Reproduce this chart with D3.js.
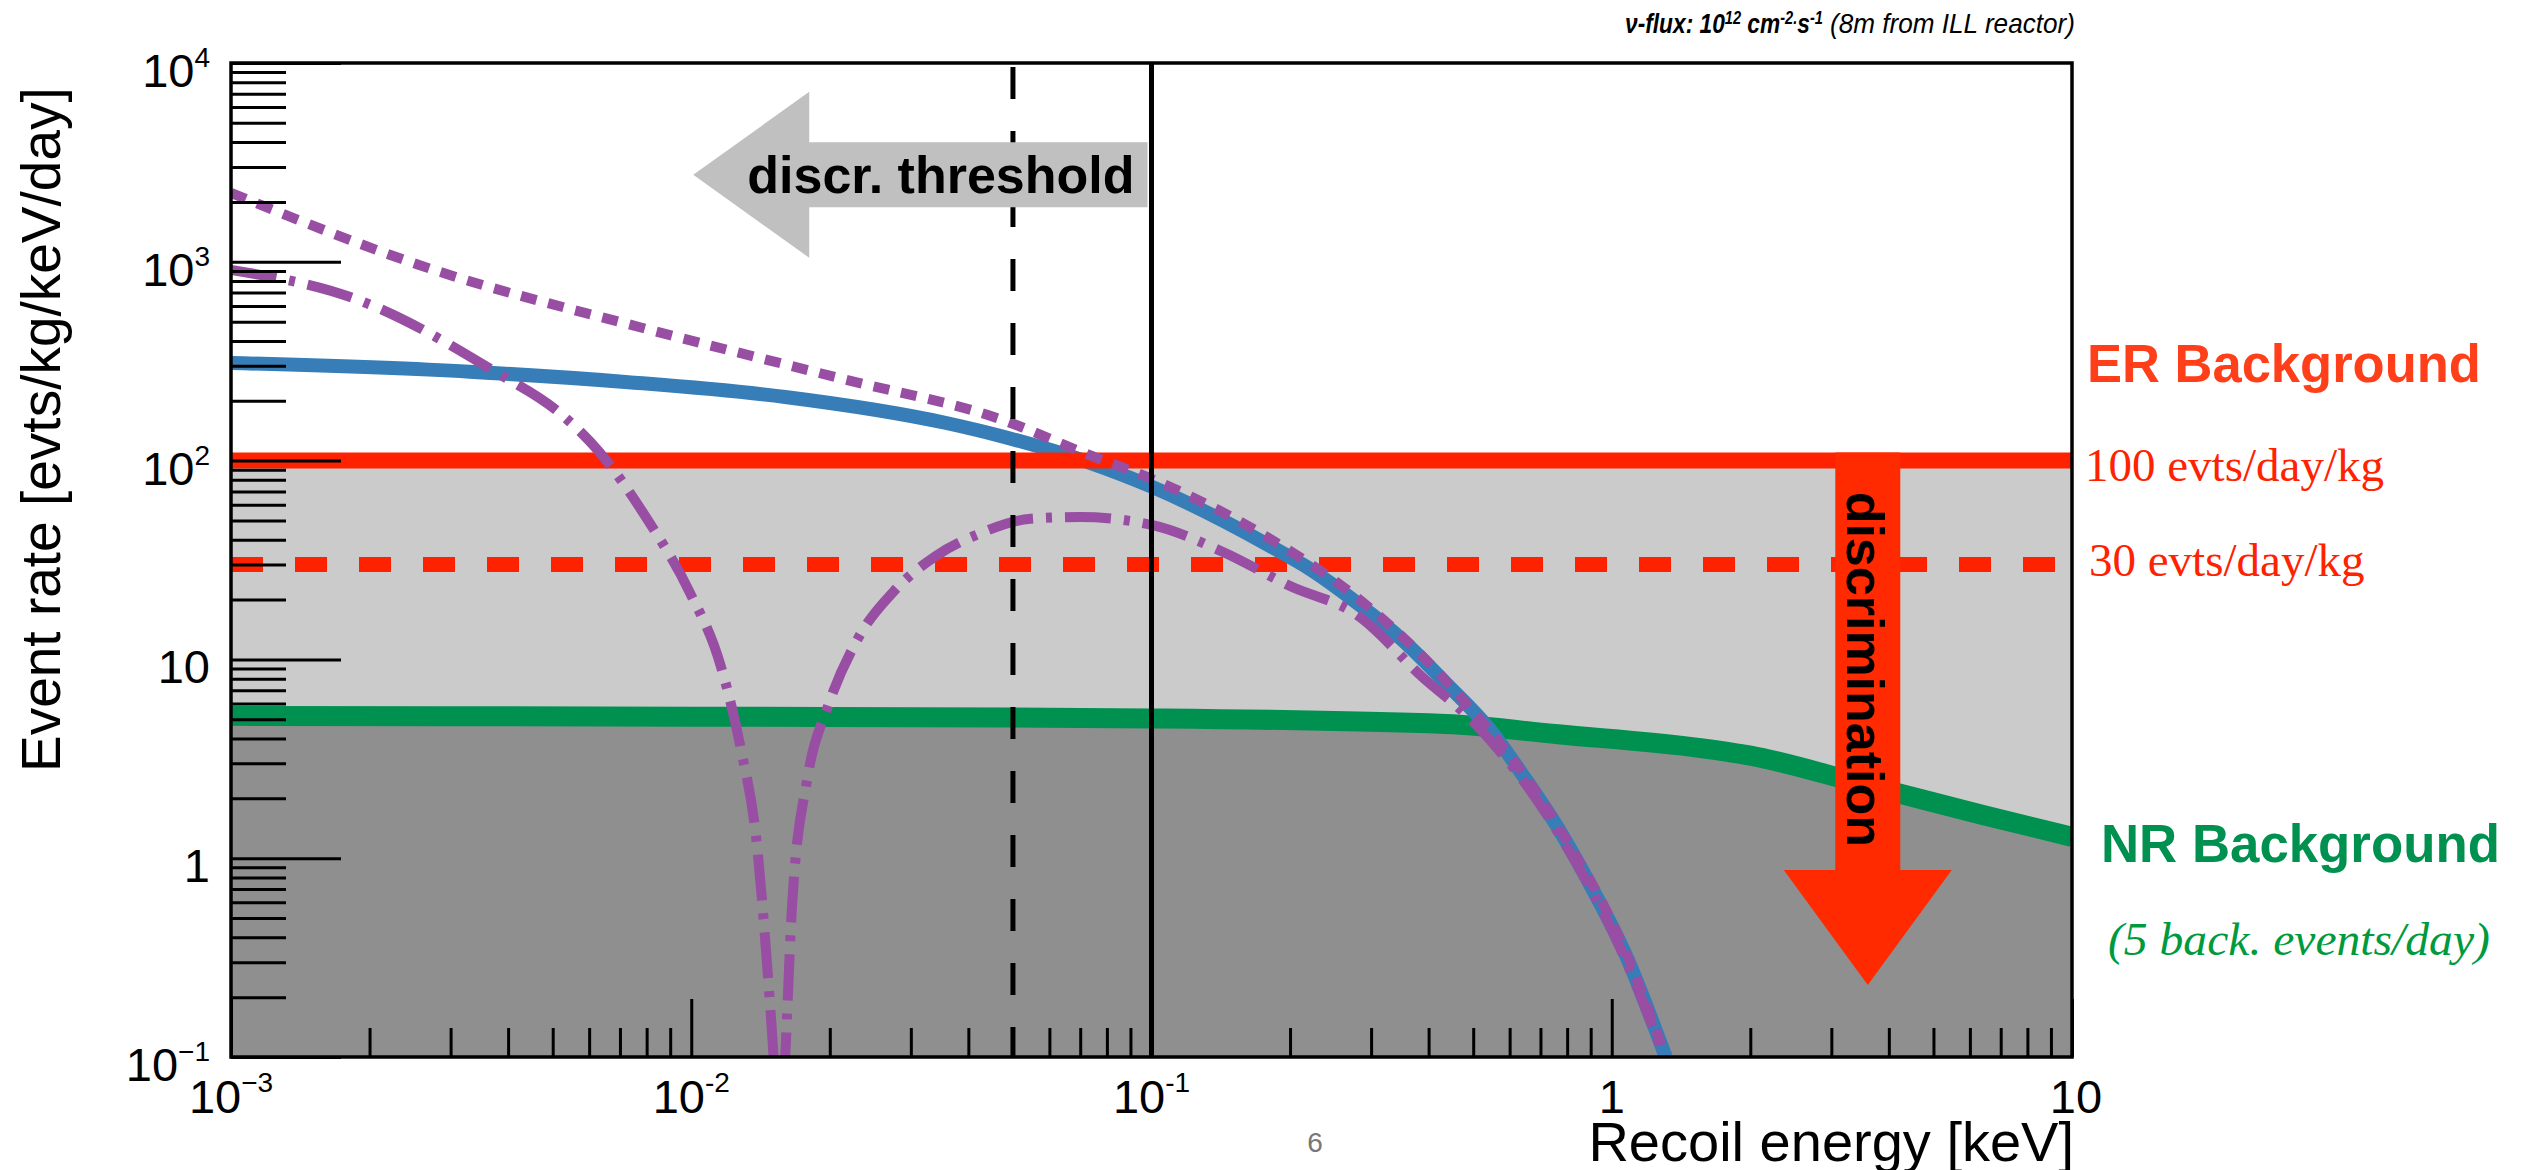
<!DOCTYPE html>
<html>
<head>
<meta charset="utf-8">
<script src="https://cdn.jsdelivr.net/npm/d3@7/dist/d3.min.js"></script>
<style>
  body { margin: 0; background: #fff; }
  svg text { font-family: "Liberation Sans", Arial, Helvetica, sans-serif; }
</style>
</head>
<body>
<svg id="chart" width="2531" height="1170"></svg>
<script>
// 読み取った値 (keV, evts/kg/keV/day)
var blueE    = [0.001, 0.0033, 0.0073, 0.016, 0.0356, 0.047, 0.073, 0.1, 0.179, 0.224, 0.28, 0.35, 0.436, 0.547, 0.646, 0.764, 0.914, 1.07, 1.31];
var blueRate = [310,   280,    248,    209,   155,    133,   98,    74,  37.7,  27.9,  19.2, 12.6, 7.6,   4.36,  2.55,  1.42,  0.68,  0.33, 0.1];

var dotE    = [0.001, 0.0028, 0.0077, 0.0214, 0.0475, 0.073, 0.1, 0.179, 0.28, 0.436, 0.764, 1.07, 1.31];
var dotRate = [2220,  900,    470,    257,    160,    107,   81,  41,    20.4, 7.8,   1.45,  0.34, 0.1];

var dashDotE    = [0.001, 0.0019, 0.0037, 0.0053, 0.0063, 0.0081, 0.0099, 0.0116, 0.0128, 0.0139, 0.0146, 0.0151, 0.01555, 0.016, 0.01656, 0.0179, 0.0198, 0.0231, 0.0276, 0.0339, 0.0427, 0.0547, 0.07, 0.1, 0.143, 0.2, 0.28, 0.39, 0.49, 0.764, 1.07, 1.31];
var dashDotRate = [910,   640,    285,    166,    111,    49,     22,     9.2,    3.6,    1.15,   0.30,   0.1,    0.03,    0.1,   0.58,    2.56,   5.77,   12.9,   22.1,   33,     43.3,   51,     52,   47.5, 34.7, 23.4, 16.7, 8.05, 5.1, 1.35, 0.31, 0.095];

var nrE    = [0.001, 0.01, 0.05, 0.1,  0.436, 0.764, 1.56, 2.0,  3.58, 6.4,  10];
var nrRate = [5.2,   5.15, 5.1,  5.05, 4.73,  4.2,   3.58, 3.28, 2.33, 1.65, 1.28];

var erLevels = [100, 30];
var thresholds = [0.05, 0.1];

var xTickVals = [1e-3, 1e-2, 1e-1, 1, 10];
var xTickBase = ["10", "10", "10", "1", "10"];
var xTickExp  = ["\u22123", "-2", "-1", "", ""];
var yTickVals = [0.1, 1, 10, 100, 1000, 10000];
var yTickBase = ["10", "1", "10", "10", "10", "10"];
var yTickExp  = ["\u22121", "", "", "2", "3", "4"];

var svg = d3.select("#chart");
var pLeft = 231, pRight = 2072, pTop = 63, pBottom = 1057;

var x = d3.scaleLog().domain([1e-3, 10]).range([pLeft, pRight]);
var y = d3.scaleLog().domain([0.1, 1e4]).range([pBottom, pTop]);

function minorOf(majors) {
  var out = [];
  majors.slice(0, -1).forEach(function(m) {
    for (var k = 2; k <= 9; k++) out.push(m * k);
  });
  return out;
}

// テキストを指定幅に横方向で合わせる
function fitText(g, x0, width) {
  var w = g.node().getBBox().width;
  g.attr("transform", "translate(" + x0 + ",0) scale(" + (width / w) + ",1)");
}

svg.append("clipPath").attr("id", "plotclip")
  .append("rect").attr("x", pLeft).attr("y", pTop)
  .attr("width", pRight - pLeft).attr("height", pBottom - pTop);

var plot = svg.append("g").attr("clip-path", "url(#plotclip)");

// 背景の灰色
plot.append("rect")
  .attr("x", pLeft).attr("y", y(100))
  .attr("width", pRight - pLeft).attr("height", pBottom - y(100))
  .attr("fill", "#cbcbcb");

var nrData = d3.zip(nrE, nrRate);
plot.append("path")
  .datum(nrData)
  .attr("fill", "#8f8f8f")
  .attr("d", d3.area()
    .x(function(d) { return x(d[0]); })
    .y0(pBottom)
    .y1(function(d) { return y(d[1]); })
    .curve(d3.curveMonotoneX));

var line = d3.line()
  .x(function(d) { return x(d[0]); })
  .y(function(d) { return y(d[1]); })
  .curve(d3.curveMonotoneX);

// ER 30 evts (dashed)
plot.append("path")
  .datum([[1e-3, erLevels[1]], [10, erLevels[1]]])
  .attr("d", line)
  .attr("stroke", "#ff2200").attr("stroke-width", 15)
  .attr("stroke-dasharray", "32,32").attr("fill", "none");

plot.append("path")
  .datum(nrData)
  .attr("d", line)
  .attr("stroke", "#009150").attr("stroke-width", 20).attr("fill", "none");

plot.append("path")
  .datum(d3.zip(blueE, blueRate))
  .attr("d", line)
  .attr("stroke", "#377eb8").attr("stroke-width", 14).attr("fill", "none");

// ER 100 evts
plot.append("path")
  .datum([[1e-3, erLevels[0]], [10, erLevels[0]]])
  .attr("d", line)
  .attr("stroke", "#ff2200").attr("stroke-width", 16).attr("fill", "none");

plot.append("path")
  .datum(d3.zip(dotE, dotRate))
  .attr("d", line)
  .attr("stroke", "#984ea3").attr("stroke-width", 10)
  .attr("stroke-dasharray", "16,12").attr("fill", "none");

plot.append("path")
  .datum(d3.zip(dashDotE, dashDotRate))
  .attr("d", line)
  .attr("stroke", "#984ea3").attr("stroke-width", 10)
  .attr("stroke-dasharray", "46,13,6,13").attr("fill", "none");

// しきい値の縦線
plot.append("line")
  .attr("x1", x(thresholds[0])).attr("x2", x(thresholds[0]))
  .attr("y1", pTop + 4).attr("y2", pBottom)
  .attr("stroke", "#000").attr("stroke-width", 5)
  .attr("stroke-dasharray", "32,32");

plot.append("line")
  .attr("x1", x(thresholds[1])).attr("x2", x(thresholds[1]))
  .attr("y1", pTop).attr("y2", pBottom)
  .attr("stroke", "#000").attr("stroke-width", 5);

// discr. threshold の矢印
var tipX = x(0.0101), endX = x(thresholds[1]) - 4, cy = y(2740);
var headL = 116, headH = 83, bodyH = 32.5;
svg.append("path")
  .attr("d", "M" + tipX + "," + cy +
    "L" + (tipX + headL) + "," + (cy - headH) +
    "L" + (tipX + headL) + "," + (cy - bodyH) +
    "L" + endX + "," + (cy - bodyH) +
    "L" + endX + "," + (cy + bodyH) +
    "L" + (tipX + headL) + "," + (cy + bodyH) +
    "L" + (tipX + headL) + "," + (cy + headH) + "Z")
  .attr("fill", "#c0c0c0");

svg.append("text")
  .attr("x", endX - 13).attr("y", cy + 18)
  .attr("text-anchor", "end")
  .attr("font-size", 52).attr("font-weight", "bold")
  .text("discr. threshold");

// discrimination の矢印
var ax = x(3.6), ayTop = y(100) - 8, ayTip = y(0.23);
var dHeadL = 115, dHeadW = 84, dBodyW = 32.5;
svg.append("path")
  .attr("d", "M" + ax + "," + ayTip +
    "L" + (ax - dHeadW) + "," + (ayTip - dHeadL) +
    "L" + (ax - dBodyW) + "," + (ayTip - dHeadL) +
    "L" + (ax - dBodyW) + "," + ayTop +
    "L" + (ax + dBodyW) + "," + ayTop +
    "L" + (ax + dBodyW) + "," + (ayTip - dHeadL) +
    "L" + (ax + dHeadW) + "," + (ayTip - dHeadL) + "Z")
  .attr("fill", "#ff2a00");

svg.append("text")
  .attr("transform", "translate(" + (ax - 21) + "," + ((ayTop + ayTip - dHeadL) / 2 + 8) + ") rotate(90)")
  .attr("text-anchor", "middle")
  .attr("font-size", 52).attr("font-weight", "bold")
  .text("discrimination");

// 軸の目盛り
var yMajor = svg.append("g").attr("transform", "translate(" + pLeft + ",0)")
  .call(d3.axisLeft(y).tickValues(yTickVals).tickSize(-110).tickFormat(""));
var yMinor = svg.append("g").attr("transform", "translate(" + pLeft + ",0)")
  .call(d3.axisLeft(y).tickValues(minorOf(yTickVals)).tickSize(-55).tickFormat(""));
var xMajor = svg.append("g").attr("transform", "translate(0," + pBottom + ")")
  .call(d3.axisBottom(x).tickValues(xTickVals).tickSize(-58).tickFormat(""));
var xMinor = svg.append("g").attr("transform", "translate(0," + pBottom + ")")
  .call(d3.axisBottom(x).tickValues(minorOf(xTickVals)).tickSize(-29).tickFormat(""));

[yMajor, yMinor, xMajor, xMinor].forEach(function(g) {
  g.select(".domain").remove();
  g.selectAll(".tick line").attr("stroke", "#000").attr("stroke-width", 3);
});

svg.append("rect")
  .attr("x", pLeft).attr("y", pTop)
  .attr("width", pRight - pLeft).attr("height", pBottom - pTop)
  .attr("fill", "none").attr("stroke", "#000").attr("stroke-width", 3.5);

// 目盛りラベル
yTickVals.forEach(function(v, i) {
  var t = svg.append("text")
    .attr("x", 210).attr("y", y(v) + 24)
    .attr("text-anchor", "end").attr("font-size", 47);
  t.append("tspan").text(yTickBase[i]);
  if (yTickExp[i]) t.append("tspan").attr("dy", -20).attr("font-size", 28).text(yTickExp[i]);
});

xTickVals.forEach(function(v, i) {
  var t = svg.append("text")
    .attr("x", x(v) + (i == 4 ? 4 : 0)).attr("y", 1113)
    .attr("text-anchor", "middle").attr("font-size", 47);
  t.append("tspan").text(xTickBase[i]);
  if (xTickExp[i]) t.append("tspan").attr("dy", -21).attr("font-size", 28).text(xTickExp[i]);
});

svg.append("text")
  .attr("transform", "translate(60,772) rotate(-90)")
  .attr("text-anchor", "start").attr("font-size", 55)
  .text("Event rate [evts/kg/keV/day]");

svg.append("text")
  .attr("x", 2074).attr("y", 1161)
  .attr("text-anchor", "end").attr("font-size", 56)
  .text("Recoil energy [keV]");

svg.append("text")
  .attr("x", 1315).attr("y", 1152)
  .attr("text-anchor", "middle").attr("font-size", 28)
  .attr("fill", "#777")
  .text("6");

// 上の注記
var flux = svg.append("g");
var ft = flux.append("text").attr("x", 0).attr("y", 33)
  .attr("font-size", 28).attr("font-weight", "bold").attr("font-style", "italic");
ft.append("tspan").text("\u03bd-flux: 10");
ft.append("tspan").attr("dy", -9).attr("font-size", 18).text("12");
ft.append("tspan").attr("dy", 9).text(" cm");
ft.append("tspan").attr("dy", -9).attr("font-size", 18).text("-2.");
ft.append("tspan").attr("dy", 9).text("s");
ft.append("tspan").attr("dy", -9).attr("font-size", 18).text("-1");
fitText(flux, 1625, 198);

var reactor = svg.append("g");
reactor.append("text").attr("x", 0).attr("y", 33)
  .attr("font-size", 28).attr("font-style", "italic")
  .text("(8m from ILL reactor)");
fitText(reactor, 1830, 245);

// 右側のラベル
var er = svg.append("g");
er.append("text").attr("x", 0).attr("y", 382)
  .attr("font-size", 54).attr("font-weight", "bold").attr("fill", "#ff3f1a")
  .text("ER Background");
fitText(er, 2087, 394);

svg.append("text")
  .attr("x", 2085).attr("y", y(erLevels[0]) + 20)
  .style("font-family", "'Liberation Serif', 'Times New Roman', serif")
  .attr("font-size", 47).attr("fill", "#ff2200")
  .text("100 evts/day/kg");

svg.append("text")
  .attr("x", 2089).attr("y", y(erLevels[1]) + 11)
  .style("font-family", "'Liberation Serif', 'Times New Roman', serif")
  .attr("font-size", 47).attr("fill", "#ff2200")
  .text("30 evts/day/kg");

var nr = svg.append("g");
nr.append("text").attr("x", 0).attr("y", 862)
  .attr("font-size", 54).attr("font-weight", "bold").attr("fill", "#009150")
  .text("NR Background");
fitText(nr, 2101, 399);

var nrNote = svg.append("g");
nrNote.append("text").attr("x", 0).attr("y", 955)
  .style("font-family", "'Liberation Serif', 'Times New Roman', serif")
  .attr("font-size", 46).attr("font-style", "italic").attr("fill", "#009a3e")
  .text("(5 back. events/day)");
fitText(nrNote, 2108, 382);
</script>
</body>
</html>
